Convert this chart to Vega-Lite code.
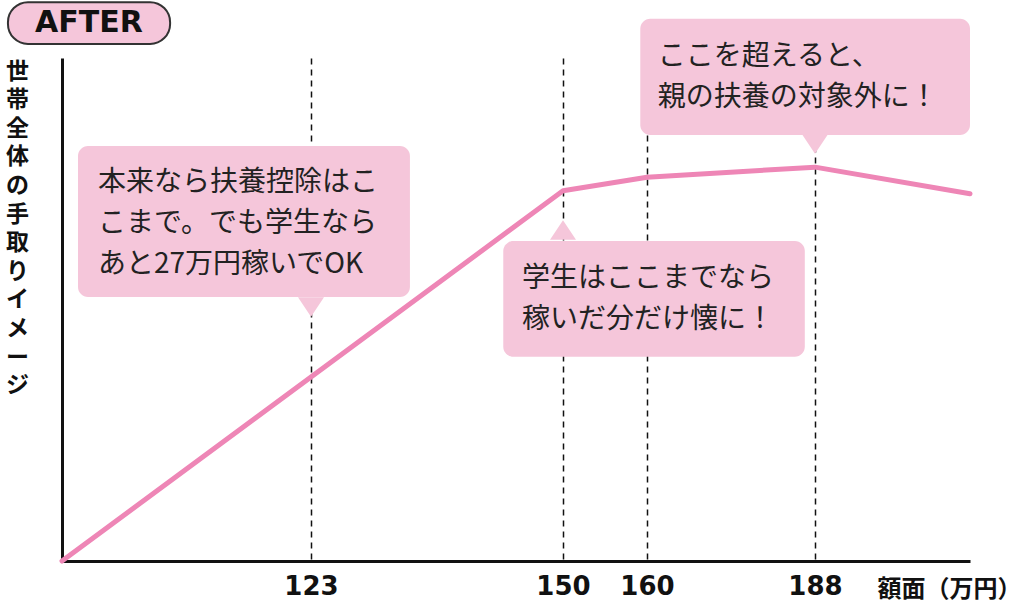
{
  "$schema": "https://vega.github.io/schema/vega-lite/v6.json",
  "width": 908,
  "height": 503,
  "autosize": {"type": "none"},
  "padding": {"left": 62, "top": 58, "right": 54, "bottom": 46},
  "background": "white",
  "config": {"view": {"stroke": null}, "font": "Noto Sans CJK JP"},
  "datasets": {
    "curve": [
      {"gaku": 0, "tedori": 0},
      {"gaku": 150, "tedori": 73.6},
      {"gaku": 160, "tedori": 76.3},
      {"gaku": 188, "tedori": 78.3},
      {"gaku": 210, "tedori": 73.0}
    ],
    "notes": [
      {"x1": 7.9, "x2": 133.6, "y1": 82.5, "y2": 52.5, "px": 123, "py": 50.5, "dir": "down", "tx": 17.8, "ty": 75.1, "label": "本来なら扶養控除はこ\nこまで。でも学生なら\nあと27万円稼いでOK"},
      {"x1": 143.6, "x2": 186.3, "y1": 63.6, "y2": 40.6, "px": 150, "py": 65.8, "dir": "up", "tx": 145.6, "ty": 56.1, "label": "学生はここまでなら\n稼いだ分だけ懐に！"},
      {"x1": 159.2, "x2": 210, "y1": 107.8, "y2": 84.7, "px": 188, "py": 82.9, "dir": "down", "tx": 161.8, "ty": 100.2, "label": "ここを超えると、\n親の扶養の対象外に！"}
    ],
    "badge": [
      {"x1": -26.7, "x2": 53.4, "y1": 111.1, "y2": 102.8, "tx": 13.3, "ty": 107.0, "label": "AFTER"}
    ]
  },
  "layer": [
    {
      "data": {"name": "curve"},
      "mark": {"type": "line", "color": "#ee86b6", "strokeWidth": 5, "strokeCap": "round", "strokeJoin": "round"},
      "encoding": {
        "x": {
          "field": "gaku",
          "type": "quantitative",
          "scale": {"domain": [0, 123, 150, 160, 188, 210], "range": [0, 249, 501, 585, 753, 908], "nice": false, "zero": false},
          "axis": {
            "values": [123, 150, 160, 188],
            "format": "d",
            "title": "額面（万円）",
            "grid": true,
            "gridDash": [6, 5],
            "gridColor": "#111111",
            "gridWidth": 1.5,
            "ticks": false,
            "domainColor": "#111111",
            "domainWidth": 3,
            "labelFont": "DejaVu Sans",
            "labelFontWeight": "bold",
            "labelFontSize": 26,
            "labelColor": "#111111",
            "labelPadding": 12,
            "labelFlush": false,
            "labelOverlap": false,
            "titleX": 815,
            "titleY": 28,
            "titleAlign": "left",
            "titleBaseline": "middle",
            "titleFont": "Noto Sans CJK JP",
            "titleFontSize": 24,
            "titleFontWeight": "bold",
            "titleColor": "#111111"
          }
        },
        "y": {
          "field": "tedori",
          "type": "quantitative",
          "scale": {"domain": [0, 100], "nice": false},
          "axis": {
            "title": ["世", "帯", "全", "体", "の", "手", "取", "り", "イ", "メ", "ー", "ジ"],
            "labels": false,
            "ticks": false,
            "grid": false,
            "domainColor": "#111111",
            "domainWidth": 3,
            "titleAngle": 0,
            "titleX": -45,
            "titleY": 2,
            "titleAlign": "center",
            "titleBaseline": "top",
            "titleFont": "Noto Sans CJK JP",
            "titleFontSize": 23,
            "titleFontWeight": "bold",
            "titleLineHeight": 28.6,
            "titleColor": "#111111"
          }
        }
      }
    },
    {
      "data": {"name": "notes"},
      "mark": {"type": "rect", "color": "#f5c6da", "cornerRadius": 10},
      "encoding": {
        "x": {"field": "x1", "type": "quantitative", "scale": {"domain": [0, 123, 150, 160, 188, 210], "range": [0, 249, 501, 585, 753, 908], "nice": false, "zero": false}},
        "x2": {"field": "x2"},
        "y": {"field": "y1", "type": "quantitative", "scale": {"domain": [0, 100], "nice": false}},
        "y2": {"field": "y2"}
      }
    },
    {
      "data": {"name": "notes"},
      "mark": {"type": "point", "filled": true, "color": "#f5c6da", "size": 676, "strokeWidth": 0, "opacity": 1},
      "encoding": {
        "x": {"field": "px", "type": "quantitative", "scale": {"domain": [0, 123, 150, 160, 188, 210], "range": [0, 249, 501, 585, 753, 908], "nice": false, "zero": false}},
        "y": {"field": "py", "type": "quantitative", "scale": {"domain": [0, 100], "nice": false}},
        "shape": {
          "field": "dir",
          "type": "nominal",
          "scale": {"domain": ["down", "up"], "range": ["M-1,-0.75L1,-0.75L0,0.75Z", "M-1,0.75L1,0.75L0,-0.75Z"]},
          "legend": null
        }
      }
    },
    {
      "data": {"name": "notes"},
      "mark": {"type": "text", "align": "left", "baseline": "middle", "lineBreak": "\n", "lineHeight": 41, "fontSize": 28, "font": "Noto Sans CJK JP", "color": "#222222"},
      "encoding": {
        "x": {"field": "tx", "type": "quantitative", "scale": {"domain": [0, 123, 150, 160, 188, 210], "range": [0, 249, 501, 585, 753, 908], "nice": false, "zero": false}},
        "y": {"field": "ty", "type": "quantitative", "scale": {"domain": [0, 100], "nice": false}},
        "text": {"field": "label"}
      }
    },
    {
      "data": {"name": "badge"},
      "mark": {"type": "rect", "fill": "#f5c6da", "stroke": "#333333", "strokeWidth": 2, "cornerRadius": 20},
      "encoding": {
        "x": {"field": "x1", "type": "quantitative", "scale": {"domain": [0, 123, 150, 160, 188, 210], "range": [0, 249, 501, 585, 753, 908], "nice": false, "zero": false}},
        "x2": {"field": "x2"},
        "y": {"field": "y1", "type": "quantitative", "scale": {"domain": [0, 100], "nice": false}},
        "y2": {"field": "y2"}
      }
    },
    {
      "data": {"name": "badge"},
      "mark": {"type": "text", "align": "center", "baseline": "middle", "fontSize": 30, "fontWeight": "bold", "font": "DejaVu Sans", "color": "#111111"},
      "encoding": {
        "x": {"field": "tx", "type": "quantitative", "scale": {"domain": [0, 123, 150, 160, 188, 210], "range": [0, 249, 501, 585, 753, 908], "nice": false, "zero": false}},
        "y": {"field": "ty", "type": "quantitative", "scale": {"domain": [0, 100], "nice": false}},
        "text": {"field": "label"}
      }
    }
  ]
}
